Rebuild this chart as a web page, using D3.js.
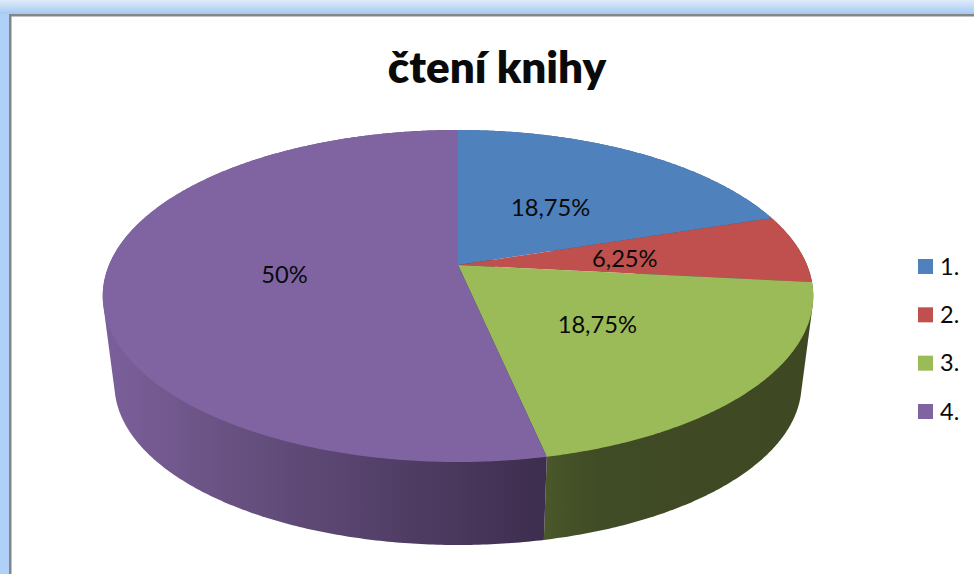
<!DOCTYPE html>
<html>
<head>
<meta charset="utf-8">
<script src="https://cdnjs.cloudflare.com/ajax/libs/d3/7.8.5/d3.min.js"></script>
<style>
html, body { margin: 0; padding: 0; background: #fff; overflow: hidden; }
text { font-family: Lato, "Open Sans", sans-serif; fill: #0a0a0a; }
</style>
</head>
<body>
<script>
// chart data
var title = "čtení knihy"
var categories = ["1.", "2.", "3.", "4."]
var answers = [3, 1, 3, 8]
var labels = ["18,75%", "6,25%", "18,75%", "50%"]
var colors = ["#4f81bd", "#c0504d", "#9bbb59", "#8064a2"]

var width = 974, height = 574

var svg = d3.select("body")
            .append("svg")
            .attr("width", width)
            .attr("height", height)
            .style("display", "block")

var defs = svg.append("defs")

// window frame behind the chart
var topBand = defs.append("linearGradient")
    .attr("id", "topBand")
    .attr("x1", 0).attr("x2", 0).attr("y1", 0).attr("y2", 1)
topBand.append("stop").attr("offset", 0).attr("stop-color", "#dfebfb")
topBand.append("stop").attr("offset", 1).attr("stop-color", "#a5c9f2")

svg.append("rect").attr("width", width).attr("height", height).attr("fill", "#fff")
svg.append("rect").attr("width", width).attr("height", 14).attr("fill", "url(#topBand)")
svg.append("rect").attr("y", 14).attr("width", 9).attr("height", height).attr("fill", "#b0d1f7")
svg.append("rect").attr("x", 9).attr("y", 14).attr("width", width).attr("height", 2.5).attr("fill", "#858585")
svg.append("rect").attr("x", 9).attr("y", 14).attr("width", 2.5).attr("height", height).attr("fill", "#858585")

// tilted pie: perspective of the unit circle
var apexX = 458, apexY = 265
var spreadX = 349, spreadY = 160.2, persp = 0.1868
var bottomScale = 0.967, bottomY = 354.5

function rim(angle, cy, scale){
  var u = Math.sin(angle), v = Math.cos(angle), w = 1 + persp*v
  return [apexX + scale*spreadX*u/w, cy - scale*spreadY*v/w]
}

var pie = d3.pie().sort(null)
var slices = pie(answers)
var line = d3.line()

function arcAngles(d){
  var steps = Math.max(2, Math.ceil((d.endAngle - d.startAngle)/0.01))
  return d3.range(steps + 1).map(function(i){
    return d.startAngle + (d.endAngle - d.startAngle)*i/steps
  })
}

// side shading, lighter on the left and dark toward the front
var sideStops = [
  [{o: 0, c: "#7a5e99"}, {o: 0.3, c: "#66507f"}, {o: 1, c: "#3d2d4e"}],
  [{o: 0, c: "#49572a"}, {o: 0.2, c: "#404c25"}, {o: 1, c: "#3e4823"}]
]
var sideRange = [[114, 546], [546, 802]]
sideStops.forEach(function(stops, i){
  var g = defs.append("linearGradient")
    .attr("id", "side" + i)
    .attr("gradientUnits", "userSpaceOnUse")
    .attr("x1", sideRange[i][0]).attr("x2", sideRange[i][1])
    .attr("y1", 0).attr("y2", 0)
  g.selectAll("stop").data(stops).enter().append("stop")
    .attr("offset", function(d){ return d.o })
    .attr("stop-color", function(d){ return d.c })
})
var sideFill = ["#3a5a80", "#7a3230", "url(#side1)", "url(#side0)"]

// hull of both rims so the sides reach the tangent lines
svg.selectAll("path.side")
    .data(slices)
    .enter()
    .append("path")
    .attr("class", "side")
    .attr("fill", function(d, i){ return sideFill[i] })
    .attr("d", function(d){
      var a = arcAngles(d)
      var up = a.map(function(t){ return rim(t, apexY, 1) })
      var down = a.map(function(t){ return rim(t, bottomY, bottomScale) })
      return line(d3.polygonHull(up.concat(down))) + "Z"
    })

svg.selectAll("path.top")
    .data(slices)
    .enter()
    .append("path")
    .attr("class", "top")
    .attr("fill", function(d, i){ return colors[i] })
    .attr("d", function(d){
      var pts = arcAngles(d).map(function(t){ return rim(t, apexY, 1) })
      return line([[apexX, apexY]].concat(pts)) + "Z"
    })

// data labels sit along each slice's middle
var labelRadius = [0.52, 0.49, 0.47, 0.49]
svg.selectAll("text.label")
    .data(slices)
    .enter()
    .append("text")
    .attr("class", "label")
    .attr("text-anchor", "middle")
    .attr("font-size", 23.7)
    .attr("x", function(d, i){
      var m = (d.startAngle + d.endAngle)/2
      return apexX + (rim(m, apexY, 1)[0] - apexX)*labelRadius[i]
    })
    .attr("y", function(d, i){
      var m = (d.startAngle + d.endAngle)/2
      return apexY + (rim(m, apexY, 1)[1] - apexY)*labelRadius[i] + 10
    })
    .text(function(d, i){ return labels[i] })

svg.append("text")
    .attr("x", 497)
    .attr("y", 83)
    .attr("text-anchor", "middle")
    .attr("font-size", 44)
    .attr("font-weight", 800)
    .text(title)

// legend
var legendY = d3.scalePoint().domain(categories).range([266.5, 411.5])

var legend = svg.selectAll("g.legend")
    .data(categories)
    .enter()
    .append("g")
    .attr("class", "legend")
    .attr("transform", function(d){ return "translate(918," + legendY(d) + ")" })

legend.append("rect")
    .attr("y", -7.5)
    .attr("width", 15)
    .attr("height", 15)
    .attr("fill", function(d, i){ return colors[i] })

legend.append("text")
    .attr("x", 22)
    .attr("y", 8)
    .attr("font-size", 23.5)
    .text(function(d){ return d })
</script>
</body>
</html>
